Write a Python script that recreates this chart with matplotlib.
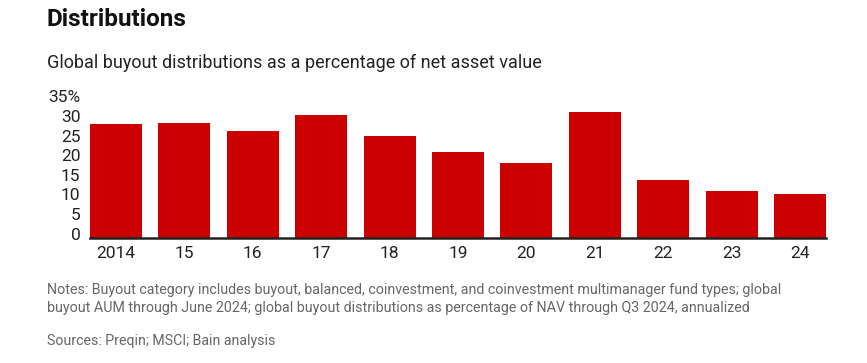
import matplotlib.pyplot as plt
from matplotlib.transforms import ScaledTranslation

plt.rcParams['font.family'] = ['Roboto', 'DejaVu Sans']

years = ['2014', '15', '16', '17', '18', '19', '20', '21', '22', '23', '24']
dist_pct = [29.0, 29.2, 27.2, 31.3, 25.9, 21.8, 19.0, 32.1, 14.7, 11.9, 11.1]
yticks = [0, 5, 10, 15, 20, 25, 30, 35]
ytick_labels = ['0', '5', '10', '15', '20', '25', '30', '35%']

fig = plt.figure(figsize=(8.67, 3.63), dpi=100)
ax = fig.add_axes([90/867, 1 - 237.5/363, 736/867, 137/363])

x = range(len(years))
ax.bar(x, dist_pct, width=0.76, color='#CC0000')
ax.set_xlim(-0.38, len(years) - 1 + 0.38)
ax.set_ylim(0, 35)

ax.set_xticks(list(x))
ax.set_xticklabels(years, fontsize=12.5, color='#222222')
ax.set_yticks(yticks)
ax.set_yticklabels(ytick_labels, fontsize=12.5, color='#222222')
ax.tick_params(length=0)
ax.tick_params(axis='x', pad=6)
ax.tick_params(axis='y', pad=7)

# nudge y labels up a bit like the original
for lbl in ax.get_yticklabels():
    lbl.set_transform(lbl.get_transform() + ScaledTranslation(0, 4/100, fig.dpi_scale_trans))

for s in ['top', 'right', 'left']:
    ax.spines[s].set_visible(False)
ax.spines['bottom'].set_linewidth(1.8)
ax.spines['bottom'].set_color('#222222')

fig.text(47/867, 1 - 19/363, 'Distributions', fontsize=17.5, fontweight='bold',
         va='center', ha='left', color='#111111')
fig.text(47/867, 1 - 63/363, 'Global buyout distributions as a percentage of net asset value',
         fontsize=13, va='center', ha='left', color='#222222')

note = ('Notes: Buyout category includes buyout, balanced, coinvestment, and coinvestment '
        'multimanager fund types; global\nbuyout AUM through June 2024; global buyout '
        'distributions as percentage of NAV through Q3 2024, annualized')
fig.text(47/867, 1 - 299/363, note, fontsize=10.3, va='center', ha='left',
         color='#666666', linespacing=1.35)
fig.text(47/867, 1 - 341/363, 'Sources: Preqin; MSCI; Bain analysis', fontsize=10.2,
         va='center', ha='left', color='#666666')

fig.savefig('out.png', dpi=100)
